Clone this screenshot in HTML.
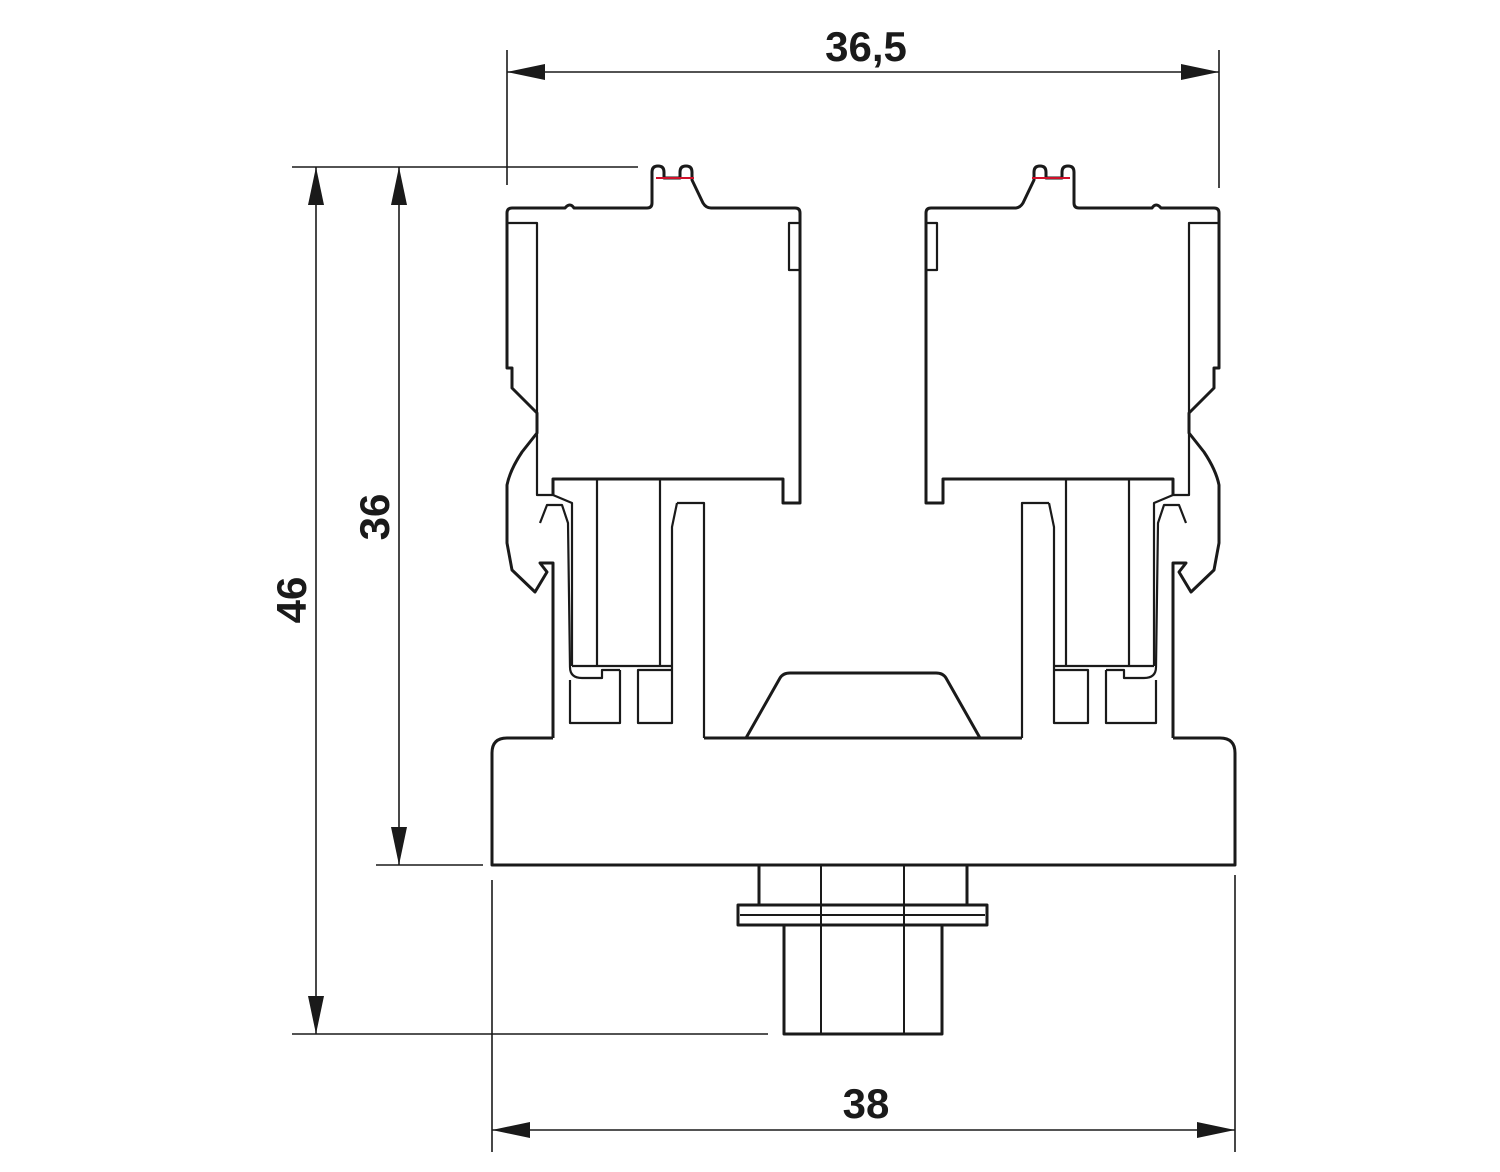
<!DOCTYPE html>
<html><head><meta charset="utf-8"><style>
html,body{margin:0;padding:0;background:#fff;width:1500px;height:1172px;overflow:hidden}
text{font-family:"Liberation Sans",sans-serif;font-weight:bold;font-size:42px;fill:#1a1a1a}
</style></head><body>
<svg width="1500" height="1172" viewBox="0 0 1500 1172" xmlns="http://www.w3.org/2000/svg">
<defs>
<g id="conn" fill="none" stroke="#1a1a1a" stroke-linejoin="round">
  <path stroke-width="3" d="M553 738 L553 563 L540 563 L547 572 L535 592 L512 570 L507 543 L507 485 Q510 470 522 452 L537 433 L537 413 L512 388 L512 368 L507 368 L507 213 Q507 208 512 208 L565 208 Q570 202 574 208 L647 208 Q652 208 652 203 L652 172 Q652 166 658 166 Q664 166 664 172 L664 178 L680 178 L680 172 Q680 166 686 166 Q692 166 692 172 L692 180 L703 203 Q706 208 711 208 L795 208 Q800 208 800 213 L800 503 L783 503 L783 479 L553 479 L553 495"/>
  <path stroke-width="2.2" d="M507 223 L537 223 L537 495 L553 495 L572 503 L572 666"/>
  <path stroke-width="2.2" d="M800 223 L789 223 L789 270 L800 270"/>
  <path stroke-width="2.2" d="M597 479 L597 666 M660 479 L660 666 M572 666 L672 666 M677 503 L704 503 L704 738 M677 503 L672 527 L672 723 L638 723 L638 670 L672 670 M620 670 L620 723 L570 723 L570 680 M540 523 L547 505 L562 505 L568 523 L570 667 Q570 678 582 678 L602 678 L602 670 L620 670"/>
  <path stroke-width="2" d="M656 178 L694 178" stroke="#d0102a"/>
</g>
</defs>
<use href="#conn"/>
<use href="#conn" transform="translate(1726,0) scale(-1,1)"/>
<g fill="none" stroke="#1a1a1a" stroke-width="3" stroke-linejoin="round">
  <path d="M746 738 L780 678 Q783 673 790 673 L936 673 Q943 673 946 678 L980 738"/>
  <path d="M553 738 L507 738 Q492 738 492 753 L492 865 L1235 865 L1235 753 Q1235 738 1220 738 L1173 738"/>
  <path d="M704 738 L1022 738"/>
  <path d="M759 865 L759 905 M967 865 L967 905"/>
  <rect x="738" y="905" width="249" height="20"/>
  <path d="M784 925 L784 1034 L942 1034 L942 925"/>
</g>
<g stroke="#1a1a1a" stroke-width="2" fill="none">
  <path d="M740 915 L985 915 M821 865 L821 1034 M904 865 L904 1034"/>
</g>
<g stroke="#1a1a1a" stroke-width="1.6" fill="none">
  <path d="M507 50 L507 185 M1219 50 L1219 188 M507 72 L1219 72"/>
  <path d="M292 167 L638 167 M316 167 L316 1034 M399 167 L399 865"/>
  <path d="M376 865 L483 865 M292 1034 L768 1034"/>
  <path d="M492 880 L492 1152 M1235 875 L1235 1152 M492 1130 L1235 1130"/>
</g>
<g fill="#1a1a1a">
  <path d="M507 72 L545 64 L545 80 Z"/>
  <path d="M1219 72 L1181 64 L1181 80 Z"/>
  <path d="M316 167 L308 205 L324 205 Z"/>
  <path d="M316 1034 L308 996 L324 996 Z"/>
  <path d="M399 167 L391 205 L407 205 Z"/>
  <path d="M399 865 L391 827 L407 827 Z"/>
  <path d="M492 1130 L530 1122 L530 1138 Z"/>
  <path d="M1235 1130 L1197 1122 L1197 1138 Z"/>
</g>
<text x="866" y="61" text-anchor="middle">36,5</text>
<text x="866" y="1118" text-anchor="middle">38</text>
<text transform="translate(306,600) rotate(-90)" text-anchor="middle">46</text>
<text transform="translate(389,517) rotate(-90)" text-anchor="middle">36</text>
</svg>
</body></html>
